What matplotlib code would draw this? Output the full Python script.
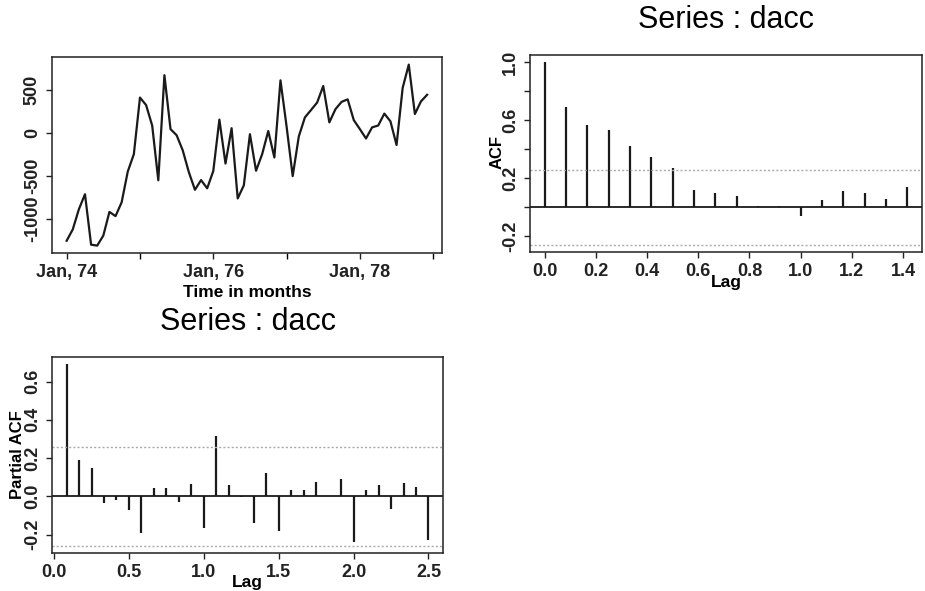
import numpy as np
import matplotlib.pyplot as plt

# Monthly series dacc, Jan 1974 - Dec 1978
dacc = [-1257, -1125, -890, -715, -1303, -1314, -1197, -921, -970, -809, -451, -247,
        412, 325, 86, -552, 673, 44, -27, -203, -458, -663, -550, -646,
        -445, 155, -357, 55, -764, -611, -15, -441, -248, 22, -286, 613,
        75, -504, -41, 181, 267, 354, 547, 123, 277, 362, 391, 149,
        44, -65, 65, 86, 225, 135, -141, 525, 796, 220, 368, 444]
start_year = 1974

# ACF values, lags 0..17 (months), plotted in years
acf_vals = [1.0, 0.69, 0.57, 0.53, 0.42, 0.35, 0.27, 0.12, 0.10, 0.08,
            0.01, 0.01, -0.06, 0.05, 0.11, 0.10, 0.06, 0.14]

# Partial ACF values, lags 1..30
pacf_vals = [0.69, 0.19, 0.15, -0.035, -0.02, -0.07, -0.19, 0.045, 0.045, -0.03,
             0.065, -0.165, 0.315, 0.057, -0.005, -0.14, 0.12, -0.18, 0.033, 0.033,
             0.073, 0.003, 0.09, -0.24, 0.033, 0.058, -0.065, 0.068, 0.048, -0.228]

conf = 0.258  # approx 2/sqrt(60)

plt.rcParams['font.family'] = ['Liberation Sans', 'DejaVu Sans']
plt.rcParams['xtick.direction'] = 'out'
plt.rcParams['ytick.direction'] = 'out'

fig = plt.figure(figsize=(9.25, 5.91), dpi=100)
W, H = 925, 591


def box(l, t, r, b):
    return [l / W, 1 - b / H, (r - l) / W, (b - t) / H]


def style(ax):
    for s in ax.spines.values():
        s.set_linewidth(1.1)
        s.set_color('#222222')
    ax.tick_params(length=4, width=1, colors='#222222', labelsize=13, pad=4)
    for lab in ax.get_xticklabels() + ax.get_yticklabels():
        lab.set_fontweight('bold')


# --- time series panel
ax1 = fig.add_axes(box(52, 57, 442, 253))
t = start_year + np.arange(len(dacc)) / 12
ax1.plot(t, dacc, color='#1a1a1a', lw=1.6)
ax1.set_xlim(1973.80, 1979.12)
ax1.set_ylim(-1400, 885)
ax1.set_xticks([1974, 1976, 1978])
ax1.set_xticklabels(['Jan, 74', 'Jan, 76', 'Jan, 78'])
ax1.set_xticks([1975, 1977, 1979], minor=True)
ax1.tick_params(which='minor', length=4, width=1)
ax1.set_yticks([-1000, -500, 0, 500])
ax1.set_yticklabels(['-1000', '-500', '0', '500'], rotation=90, va='center')
style(ax1)
ax1.set_xlabel('Time in months', fontsize=12.5, fontweight='bold')
ax1.xaxis.set_label_coords(0.5, -0.204)
ax1.xaxis.label.set_va('center')

# --- ACF panel
ax2 = fig.add_axes(box(530, 55, 922, 252))
lags = np.arange(len(acf_vals)) / 12
ax2.vlines(lags, 0, acf_vals, color='#1a1a1a', lw=1.6)
ax2.axhline(0, color='#1a1a1a', lw=1.3)
for c in (conf, -conf):
    ax2.axhline(c, color='#aaaaaa', lw=1, ls=(0, (1.5, 1.5)))
ax2.set_xlim(-0.057, 1.474)
ax2.set_ylim(-0.308, 1.05)
ax2.set_xticks(np.arange(0, 1.41, 0.2))
ax2.set_xticklabels(['0.0', '0.2', '0.4', '0.6', '0.8', '1.0', '1.2', '1.4'])
ax2.set_yticks([-0.2, 0.0, 0.2, 0.4, 0.6, 0.8, 1.0])
ax2.set_yticklabels(['-0.2', '', '0.2', '', '0.6', '', '1.0'], rotation=90, va='center')
style(ax2)
ax2.set_ylabel('ACF', fontsize=12, fontweight='bold')
ax2.yaxis.set_label_coords(-0.085, 0.51)
ax2.yaxis.label.set_va('center')
ax2.set_xlabel('Lag', fontsize=12.5, fontweight='bold')
ax2.xaxis.set_label_coords(0.5, -0.157)
ax2.xaxis.label.set_va('center')
ax2.text(0.5, 1.178, 'Series : dacc', fontsize=22, ha='center', va='center',
         transform=ax2.transAxes)

# --- PACF panel
ax3 = fig.add_axes(box(52, 357, 443, 553))
plags = np.arange(1, len(pacf_vals) + 1) / 12
ax3.vlines(plags, 0, pacf_vals, color='#1a1a1a', lw=1.6)
ax3.axhline(0, color='#1a1a1a', lw=1.3)
for c in (conf, -conf):
    ax3.axhline(c, color='#aaaaaa', lw=1, ls=(0, (1.5, 1.5)))
ax3.set_xlim(-0.014, 2.597)
ax3.set_ylim(-0.296, 0.728)
ax3.set_xticks([0, 0.5, 1.0, 1.5, 2.0, 2.5])
ax3.set_xticklabels(['0.0', '0.5', '1.0', '1.5', '2.0', '2.5'])
ax3.set_yticks([-0.2, 0.0, 0.2, 0.4, 0.6])
ax3.set_yticklabels(['-0.2', '0.0', '0.2', '0.4', '0.6'], rotation=90, va='center')
style(ax3)
ax3.set_ylabel('Partial ACF', fontsize=12, fontweight='bold')
ax3.yaxis.set_label_coords(-0.087, 0.5)
ax3.yaxis.label.set_va('center')
ax3.set_xlabel('Lag', fontsize=12.5, fontweight='bold')
ax3.xaxis.set_label_coords(0.5, -0.153)
ax3.xaxis.label.set_va('center')
ax3.text(0.5, 1.178, 'Series : dacc', fontsize=22, ha='center', va='center',
         transform=ax3.transAxes)

fig.savefig('out.png', dpi=100)
